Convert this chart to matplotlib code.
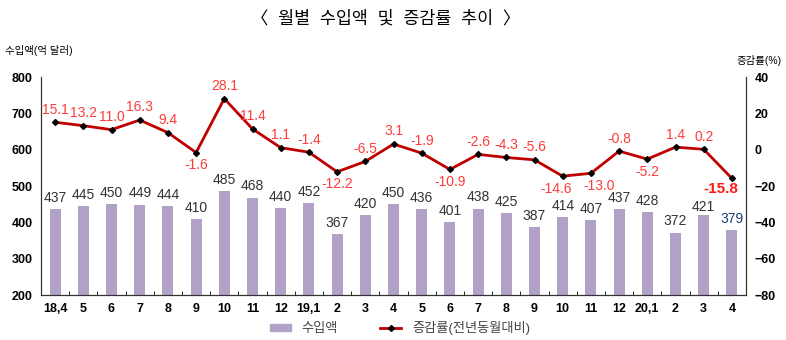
import numpy as np
import matplotlib
matplotlib.use("Agg")
import matplotlib.pyplot as plt
from matplotlib.lines import Line2D
from matplotlib.patches import Patch

plt.rcParams['font.family'] = ['Liberation Sans', 'Noto Sans CJK KR', 'DejaVu Sans']

# --- data ---
months = ['18,4', '5', '6', '7', '8', '9', '10', '11', '12', '19,1', '2', '3', '4',
          '5', '6', '7', '8', '9', '10', '11', '12', '20,1', '2', '3', '4']
imports = [437, 445, 450, 449, 444, 410, 485, 468, 440, 452, 367, 420, 450,
           436, 401, 438, 425, 387, 414, 407, 437, 428, 372, 421, 379]
growth = [15.1, 13.2, 11.0, 16.3, 9.4, -1.6, 28.1, 11.4, 1.1, -1.4, -12.2, -6.5, 3.1,
          -1.9, -10.9, -2.6, -4.3, -5.6, -14.6, -13.0, -0.8, -5.2, 1.4, 0.2, -15.8]
below = {5, 10, 14, 18, 19, 21, 24}   # rate labels drawn under the point
nudge = {18: -5, 19: 6}               # small sideways shifts so labels don't touch

bar_color = '#b1a1c7'
line_color = '#c00000'
rate_text = '#ff3b3b'

fig = plt.figure(figsize=(7.86, 3.40), dpi=100)
ax = fig.add_axes([41 / 786, 1 - 295 / 340, 705 / 786, 218 / 340])
ax2 = ax.twinx()

x = np.arange(len(months))
ax.bar(x, imports, width=0.39, color=bar_color, zorder=2)
ax.set_ylim(200, 800)
ax.set_xlim(-0.5, len(months) - 0.5)
ax.set_yticks(range(200, 801, 100))
ax.set_xticks(x)
ax.set_xticklabels(months)
ax.set_xticks(np.arange(-0.5, len(months), 1), minor=True)
ax.tick_params(axis='x', which='major', length=0, pad=6)
ax.tick_params(axis='x', which='minor', length=3, direction='in')
ax.tick_params(axis='y', length=0, pad=6)
for lab in ax.get_xticklabels() + ax.get_yticklabels():
    lab.set_fontweight('bold')
    lab.set_fontsize(9)

for i, v in enumerate(imports):
    col = '#1f3c78' if i == len(imports) - 1 else '#333333'
    off = 0.5 if i == len(imports) - 2 else 3
    ax.annotate(str(v), (i, v), xytext=(0, off), textcoords='offset points',
                ha='center', va='bottom', fontsize=10, color=col)

ax2.plot(x, growth, color=line_color, lw=2, marker='D', ms=3,
         mfc='black', mec='black', zorder=3)
ax2.set_ylim(-80, 40)
ax2.set_yticks(range(-80, 41, 20))
ax2.tick_params(axis='y', length=0, pad=6)
for lab in ax2.get_yticklabels():
    lab.set_fontweight('bold')
    lab.set_fontsize(9)

for i, v in enumerate(growth):
    dx = nudge.get(i, 0)
    if i == len(growth) - 1:
        ax2.annotate(f'{v:.1f}', (i, v), xytext=(-8, -8), textcoords='offset points',
                     ha='center', va='center', fontsize=11, fontweight='bold', color='#ff1a1a')
    elif i in below:
        ax2.annotate(f'{v:.1f}', (i, v), xytext=(dx, -4), textcoords='offset points',
                     ha='center', va='top', fontsize=10, color=rate_text)
    else:
        ax2.annotate(f'{v:.1f}', (i, v), xytext=(dx, 4), textcoords='offset points',
                     ha='center', va='bottom', fontsize=10, color=rate_text)

for a in (ax, ax2):
    a.spines['top'].set_visible(False)
    a.spines['left'].set_color('#333333')
    a.spines['right'].set_color('#333333')
    a.spines['bottom'].set_color('#333333')

fig.text(0.49, 0.945, '〈  월별  수입액  및  증감률  추이  〉', ha='center', va='center', fontsize=12.5)
fig.text(0.006, 0.852, '수입액(억 달러)', ha='left', va='center', fontsize=7.5)
fig.text(0.995, 0.822, '증감률(%)', ha='right', va='center', fontsize=7.5)

handles = [Patch(color=bar_color, label='수입액'),
           Line2D([], [], color=line_color, lw=2, marker='D', ms=3, mfc='black',
                  mec='black', label='증감률(전년동월대비)')]
fig.legend(handles=handles, loc='center', bbox_to_anchor=(0.509, 0.035), ncol=2,
           frameon=False, fontsize=9.5, columnspacing=3.2, handlelength=1.6,
           handleheight=0.5, labelcolor='#444444')

fig.savefig('out.png', dpi=100)
